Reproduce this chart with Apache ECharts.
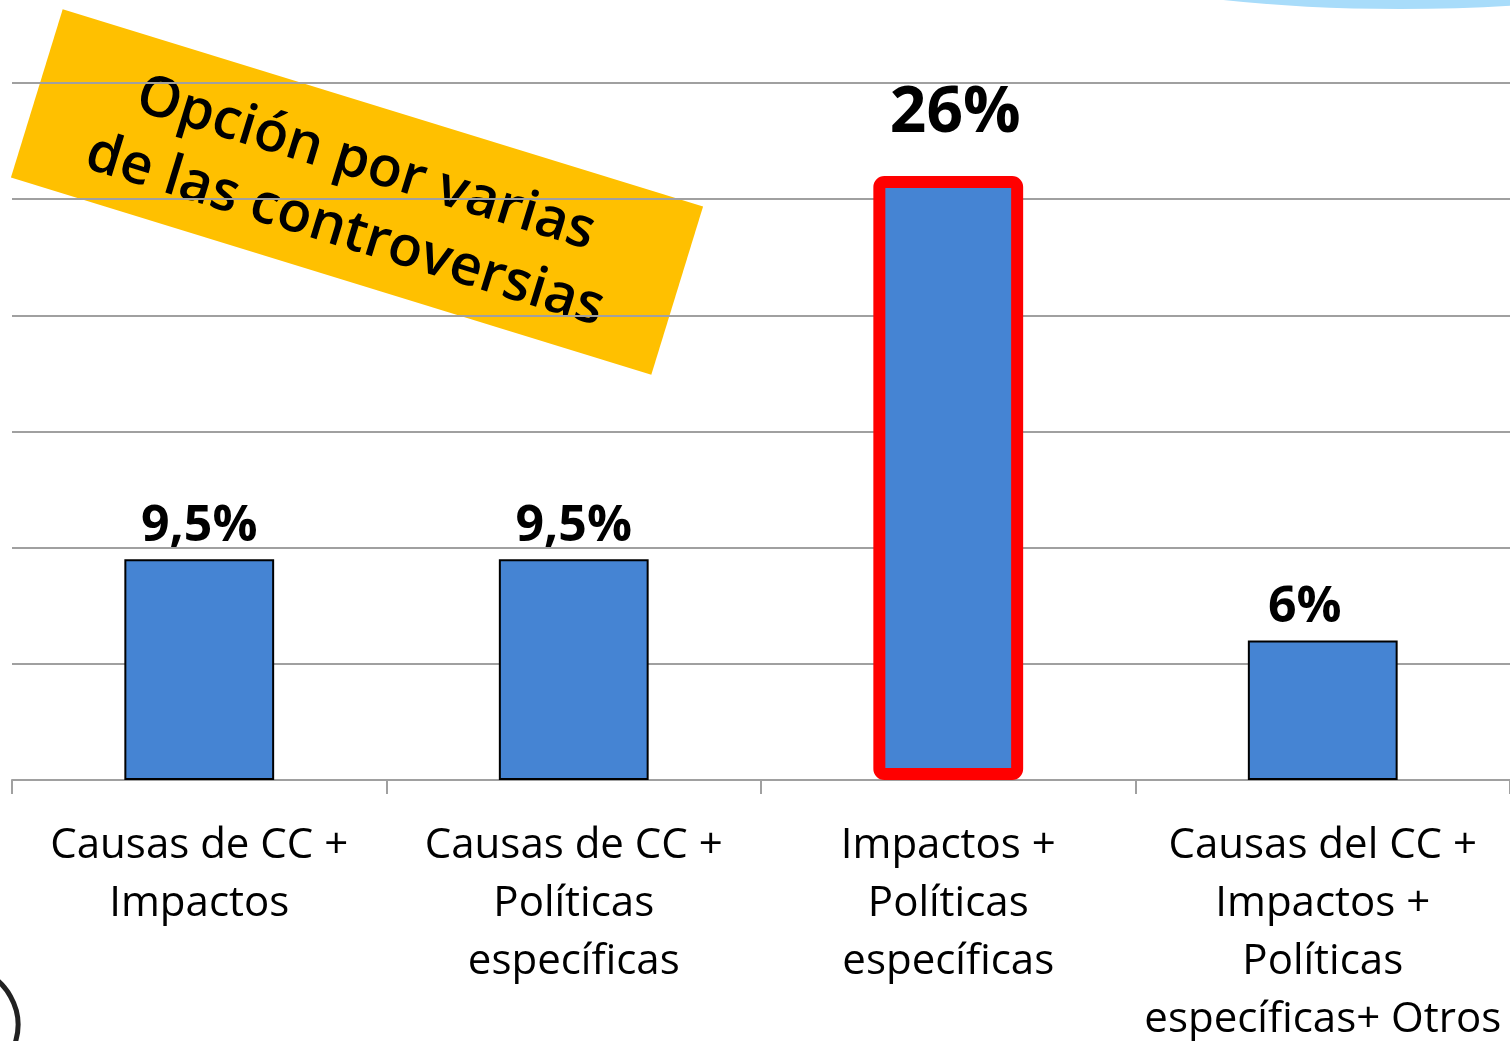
<!DOCTYPE html>
<html>
<head>
<meta charset="utf-8">
<script src="https://cdn.jsdelivr.net/npm/echarts@6/dist/echarts.min.js"></script>
<style>
html,body{margin:0;padding:0;background:#fff;}
#main{width:1510px;height:1041px;}
</style>
</head>
<body>
<div id="main"></div>
<script>
// categorias y porcentajes
var categories = [
	'Causas de CC +\nImpactos',
	'Causas de CC +\nPolíticas\nespecíficas',
	'Impactos +\nPolíticas\nespecíficas',
	'Causas del CC +\nImpactos +\nPolíticas\nespecíficas+ Otros'
];
var values = [9.5, 9.5, 26, 6];
var highlightIndex = 2;
var bannerText = 'Opción por varias\nde las controversias';

var myChart = echarts.init(document.getElementById('main'));

var fontFam = '"Open Sans", "Noto Sans", sans-serif';

// datos de las barras
var barData = [];
for (var i = 0; i < values.length; i++) {
	var item = {value: values[i]};
	if (i == highlightIndex) {
		item.itemStyle = {borderColor: '#ff0000', borderWidth: 12, borderRadius: 5};
		item.label = {fontSize: 64, distance: 30, offset: [7, 0]};
	}
	if (i == 3) {
		item.label = {offset: [-18, 0]};
	}
	barData.push(item);
}

var option = {
	animation: false,
	backgroundColor: '#fff',
	grid: {left: 12, right: 0, top: 83, bottom: 261, outerBoundsMode: 'none'},
	xAxis: {
		type: 'category',
		data: categories,
		axisLine: {lineStyle: {color: '#a0a0a0', width: 2}},
		axisTick: {show: true, length: 14, lineStyle: {color: '#a0a0a0', width: 2}},
		axisLabel: {
			interval: 0,
			margin: 37,
			color: '#000',
			fontSize: 42,
			lineHeight: 58,
			fontFamily: fontFam
		}
	},
	yAxis: {
		type: 'value',
		min: 0,
		max: 30,
		interval: 5,
		axisLabel: {show: false},
		axisLine: {show: false},
		axisTick: {show: false},
		splitLine: {lineStyle: {color: '#a0a0a0', width: 2}}
	},
	series: [{
		type: 'bar',
		barWidth: '40%',
		data: barData,
		itemStyle: {color: '#4584d3', borderColor: '#000', borderWidth: 2},
		label: {
			show: true,
			position: 'top',
			distance: 8,
			color: '#000',
			fontSize: 50,
			fontWeight: 'bold',
			fontFamily: fontFam,
			formatter: function (p) {
				return String(p.value).replace('.', ',') + '%';
			}
		}
	}],
	graphic: [
		{
			type: 'ellipse',
			shape: {cx: 1400, cy: -61, rx: 360, ry: 70},
			style: {fill: '#a8dcfa'},
			z: 100
		},
		{
			type: 'arc',
			shape: {cx: -40, cy: 1025, r: 58, startAngle: -1.3, endAngle: 1.3},
			style: {stroke: '#222', lineWidth: 5, fill: null},
			z: 100
		},
		{
			type: 'group',
			x: 357,
			y: 192,
			rotation: -0.2985,
			z: 100,
			children: [
				{
					type: 'rect',
					shape: {x: -335, y: -88, width: 670, height: 176},
					style: {fill: '#ffc000'}
				},
				{
					type: 'text',
					x: 0,
					y: 6,
					style: {
						text: bannerText,
						align: 'center',
						verticalAlign: 'middle',
						fontSize: 56,
						lineHeight: 70,
						fontWeight: 600,
						fontFamily: fontFam,
						fill: '#000'
					}
				}
			]
		}
	]
};

myChart.setOption(option);
</script>
</body>
</html>
